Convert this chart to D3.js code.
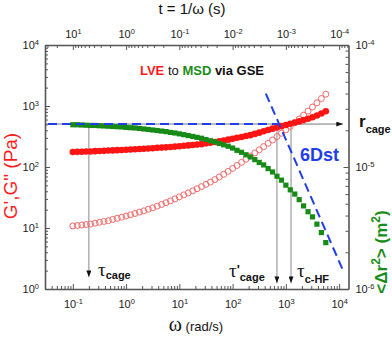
<!DOCTYPE html>
<html><head><meta charset="utf-8">
<script src="https://cdn.jsdelivr.net/npm/d3@7"></script>
<style>body{margin:0;background:#fff}svg{display:block;font-family:Arial,"Liberation Sans",sans-serif}</style>
</head><body><svg id="c" width="392" height="337"></svg>
<script>
// ---- data ----
const omega = [0.1,0.121,0.147,0.178,0.215,0.261,0.316,0.383,0.464,0.562,0.681,0.825,
  1,1.21,1.47,1.78,2.15,2.61,3.16,3.83,4.64,5.62,6.81,8.25,
  10,12.1,14.7,17.8,21.5,26.1,31.6,38.3,46.4,56.2,68.1,82.5,
  100,121,147,178,215,261,316,383,464,562,681,825,
  1000,1210,1470,1780,2150,2610,3160,3830,4640,5620];
const Gp = [176,177,178,180,180,182,183,184,186,187,189,190,192,194,195,197,199,201,203,206,208,210,213,216,219,223,226,230,233,237,244,250,257,264,272,281,291,301,311,322,333,349,366,385,404,425,446,467,488,511,535,559,587,617,653,699,753,822];
const Gpp = [10.8,11.0,11.2,11.4,11.6,12.0,12.4,12.8,13.2,13.8,14.4,15.0,15.7,16.5,17.3,18.2,19.1,20.3,21.4,22.8,24.3,26.0,27.9,30.0,32.4,34.9,37.6,40.7,44.1,47.7,51.9,56.6,62.2,68.6,75.9,84.7,94.9,106,119,134,151,170,191,216,245,277,315,358,407,463,530,612,709,825,963,1128,1327,1561];
const msd = [2.22e-5,2.22e-5,2.21e-5,2.20e-5,2.19e-5,2.19e-5,2.18e-5,2.17e-5,2.16e-5,2.15e-5,2.14e-5,2.13e-5,2.11e-5,2.10e-5,2.09e-5,2.07e-5,2.05e-5,2.03e-5,2.01e-5,1.99e-5,1.97e-5,1.95e-5,1.92e-5,1.90e-5,1.87e-5,1.84e-5,1.81e-5,1.78e-5,1.75e-5,1.72e-5,1.68e-5,1.64e-5,1.61e-5,1.56e-5,1.52e-5,1.48e-5,1.43e-5,1.37e-5,1.32e-5,1.26e-5,1.21e-5,1.15e-5,1.09e-5,1.04e-5,9.7e-6,9.1e-6,8.4e-6,7.8e-6,7.1e-6,6.5e-6,6.0e-6,5.4e-6,4.8e-6,4.3e-6,3.9e-6,3.4e-6,2.9e-6,2.4e-6];
const omegaDomain = [0.03, 15000];
const gDomain = [1, 1e4];
const msdDomain = [1e-6, 1e-4];
const omegaTicks = [0.1,1,10,100,1000,10000];
const tTicks = [10,1,0.1,0.01,0.001,0.0001];
const gTicks = [1,10,100,1000,10000];
const msdTicks = [1e-6,1e-5,1e-4];
const rCage = 2.25e-5;                 // MSD plateau
const tauOmega = {cage:0.2, cagePrime:680, cHF:1250};
const arrowEndG = {cage:1.57, other:1.25};
const blueDashEnd = 700;               // omega where horizontal dashed ends
const sixDst = [[420,4.0e-5],[12000,1.4e-6]]; // [omega, MSD]
const rArrowEnd = 11800;

// ---- layout ----
const L=45,R=348.5,T=45,B=289;
const svg=d3.select("#c");
const x=d3.scaleLog().domain(omegaDomain).range([L,R]);
const xt=d3.scaleLog().domain([1/omegaDomain[0],1/omegaDomain[1]]).range([L,R]);
const y=d3.scaleLog().domain(gDomain).range([B,T]);
const y2=d3.scaleLog().domain(msdDomain).range([B,T]);

function minors(a,b){const lo=Math.min(a,b),hi=Math.max(a,b),out=[];
  for(let e=Math.floor(Math.log10(lo))-1;e<=Math.ceil(Math.log10(hi));e++)
    for(let k=2;k<=9;k++){const v=k*Math.pow(10,e); if(v>=lo*0.999&&v<=hi*1.001) out.push(v);}
  return out;}
function sup(g){g.selectAll(".tick text").each(function(d){
  const e=Math.round(Math.log10(d)); const s=d3.select(this); s.text(null);
  s.append("tspan").text("10");
  s.append("tspan").attr("dy","-0.5em").attr("font-size","0.68em").text(e<0?"-"+(-e):String(e));
});}
function style(g){g.select(".domain").attr("stroke","#555").attr("stroke-width",1.6);
  g.selectAll(".tick line").attr("stroke","#555").attr("stroke-width",1);
  g.selectAll(".tick text").attr("font-size",11).attr("fill","#222").attr("font-family","Arial,'Liberation Sans',sans-serif");}

const defs=svg.append("defs");
defs.append("marker").attr("id","ah").attr("viewBox","0 0 8 6").attr("refX",8).attr("refY",3)
  .attr("markerWidth",7).attr("markerHeight",5).attr("markerUnits","userSpaceOnUse").attr("orient","auto")
  .append("path").attr("d","M0,0L8,3L0,6z").attr("fill","#111");

// annotation lines (behind data)
const ann=svg.append("g");
ann.append("line").attr("x1",x(omegaDomain[0])).attr("x2",x(rArrowEnd)).attr("y1",y2(rCage)).attr("y2",y2(rCage))
  .attr("stroke","#777").attr("stroke-width",1).attr("marker-end","url(#ah)");
[[tauOmega.cage,arrowEndG.cage],[tauOmega.cagePrime,arrowEndG.other],[tauOmega.cHF,arrowEndG.other]].forEach(([w,g])=>{
  ann.append("line").attr("x1",x(w)).attr("x2",x(w)).attr("y1",y2(rCage)).attr("y2",y(g))
    .attr("stroke","#888").attr("stroke-width",1).attr("marker-end","url(#ah)");
});

// data
const pts=omega.map((w,i)=>({w,gp:Gp[i],gpp:Gpp[i],m:msd[i]}));
svg.append("g").selectAll("circle").data(pts).join("circle")
  .attr("cx",d=>x(d.w)).attr("cy",d=>y(d.gpp)).attr("r",3)
  .attr("fill","none").attr("stroke","#f26a6a").attr("stroke-width",1);
svg.append("g").selectAll("circle").data(pts).join("circle")
  .attr("cx",d=>x(d.w)).attr("cy",d=>y(d.gp)).attr("r",3.3).attr("fill","#ff1414");
svg.append("g").selectAll("rect").data(pts).join("rect")
  .attr("x",d=>x(d.w)-2.6).attr("y",d=>y2(d.m)-2.6).attr("width",5.2).attr("height",5.2).attr("fill","#178a17");

// blue dashed lines
const blue="#1f3ee6";
svg.append("line").attr("x1",x(omegaDomain[0])+3).attr("x2",x(blueDashEnd)).attr("y1",y2(rCage)).attr("y2",y2(rCage))
  .attr("stroke",blue).attr("stroke-width",2).attr("stroke-dasharray","9,5");
svg.append("line").attr("x1",x(sixDst[0][0])).attr("y1",y2(sixDst[0][1])).attr("x2",x(sixDst[1][0])).attr("y2",y2(sixDst[1][1]))
  .attr("stroke",blue).attr("stroke-width",2).attr("stroke-dasharray","9,5");

// axes
const gb=svg.append("g").attr("transform",`translate(0,${B})`);
gb.call(d3.axisBottom(x).tickValues(minors(...omegaDomain)).tickSizeInner(-3).tickSizeOuter(0).tickFormat(""));
gb.call(g=>style(g));
const gb2=svg.append("g").attr("transform",`translate(0,${B})`).call(d3.axisBottom(x).tickValues(omegaTicks).tickSizeInner(-5).tickSizeOuter(0).tickPadding(11));
style(gb2); sup(gb2); gb2.select(".domain").remove();

const gt=svg.append("g").attr("transform",`translate(0,${T})`);
gt.call(d3.axisTop(xt).tickValues(minors(...xt.domain())).tickSizeInner(-3).tickSizeOuter(0).tickFormat("")); style(gt);
const gt2=svg.append("g").attr("transform",`translate(0,${T})`).call(d3.axisTop(xt).tickValues(tTicks).tickSizeInner(-5).tickSizeOuter(0).tickPadding(7));
style(gt2); sup(gt2); gt2.select(".domain").remove();

const gl=svg.append("g").attr("transform",`translate(${L},0)`);
gl.call(d3.axisLeft(y).tickValues(minors(...gDomain)).tickSizeInner(-3).tickSizeOuter(0).tickFormat("")); style(gl);
const gl2=svg.append("g").attr("transform",`translate(${L},0)`).call(d3.axisLeft(y).tickValues(gTicks).tickSizeInner(-5).tickSizeOuter(0).tickPadding(6));
style(gl2); sup(gl2); gl2.select(".domain").remove();

const gr=svg.append("g").attr("transform",`translate(${R},0)`);
gr.call(d3.axisRight(y2).tickValues(minors(...msdDomain)).tickSizeInner(-3).tickSizeOuter(0).tickFormat("")); style(gr);
const gr2=svg.append("g").attr("transform",`translate(${R},0)`).call(d3.axisRight(y2).tickValues(msdTicks).tickSizeInner(-5).tickSizeOuter(0).tickPadding(7));
style(gr2); sup(gr2); gr2.select(".domain").remove();

// texts
svg.append("text").attr("x",192).attr("y",14).attr("text-anchor","middle").attr("font-size",15).attr("fill","#111").text("t = 1/ω (s)");
const bt=svg.append("text").attr("x",196).attr("y",331).attr("text-anchor","middle").attr("fill","#111");
bt.append("tspan").attr("font-size",20).attr("font-family","'Liberation Serif','DejaVu Serif',serif").text("ω");
bt.append("tspan").attr("font-size",13).text(" (rad/s)");

const ti=svg.append("text").attr("x",202).attr("y",75).attr("text-anchor","middle").attr("font-size",13).attr("font-weight","bold");
ti.append("tspan").attr("fill","#ff1a1a").text("LVE");
ti.append("tspan").attr("fill","#111").attr("font-weight","normal").text(" to ");
ti.append("tspan").attr("fill","#1a8c1a").text("MSD");
ti.append("tspan").attr("fill","#111").text(" via GSE");

svg.append("text").attr("x",300).attr("y",161).attr("font-size",18).attr("font-weight","bold").attr("fill",blue).text("6Dst");

const rc=svg.append("text").attr("x",359).attr("y",127).attr("font-weight","bold").attr("fill","#111");
rc.append("tspan").attr("font-size",17).text("r");
rc.append("tspan").attr("font-size",11).attr("dy",6).text("cage");

svg.append("text").attr("transform","translate(17,176) rotate(-90)").attr("text-anchor","middle")
  .attr("font-size",19).attr("fill","#ff1a1a").text("G',G\" (Pa)");
const rt=svg.append("text").attr("transform","translate(387,252) rotate(-90)").attr("text-anchor","middle")
  .attr("font-size",17).attr("font-weight","bold").attr("fill","#1a8c1a");
rt.append("tspan").text("<Δr");
rt.append("tspan").attr("font-size",12).attr("dy",-7).text("2");
rt.append("tspan").attr("dy",7).text("> (m");
rt.append("tspan").attr("font-size",12).attr("dy",-7).text("2");
rt.append("tspan").attr("dy",7).text(")");

function tau(xp,yb,prime,sub,subY){
  const t=svg.append("text").attr("x",xp).attr("y",yb).attr("fill","#111");
  t.append("tspan").attr("font-size",19).attr("font-family","'Liberation Serif','DejaVu Serif',serif").text("τ");
  if(prime) t.append("tspan").attr("font-size",13).attr("font-weight","bold").attr("dy",-3).text("'");
  t.append("tspan").attr("font-size",11).attr("font-weight","bold").attr("dy",subY).text(sub);
}
tau(98,276,false,"cage",3);
tau(229,277,true,"cage",7);
tau(297,277,false,"c-HF",6);
</script></body></html>
